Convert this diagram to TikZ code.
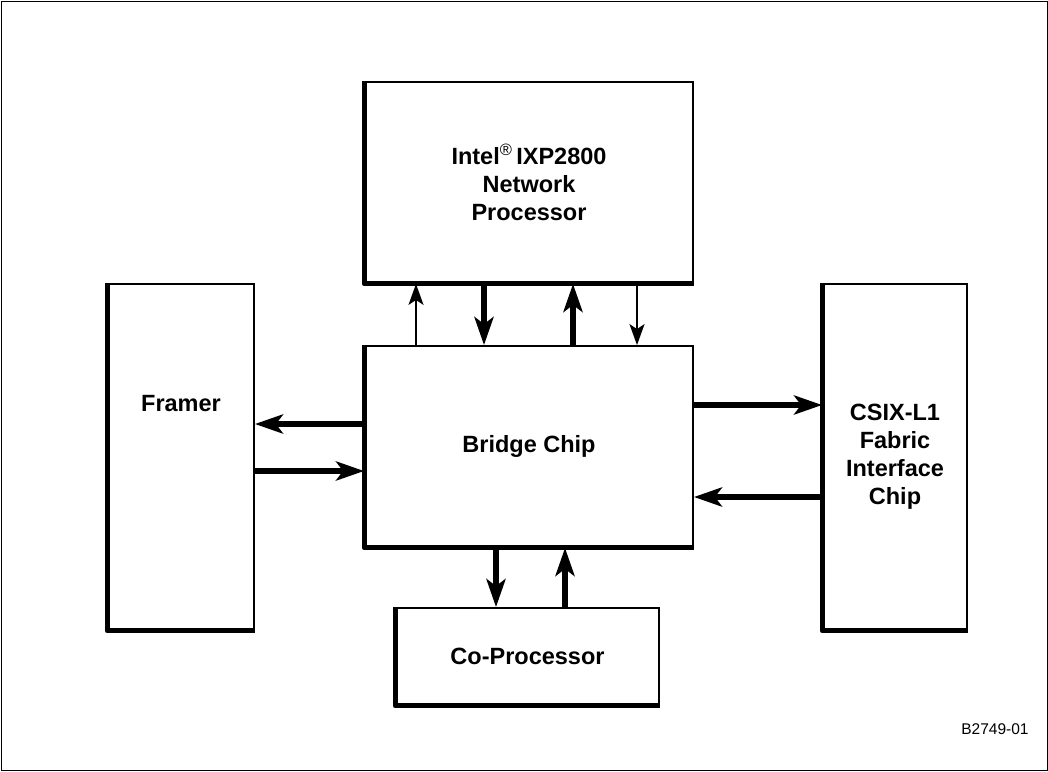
\documentclass[tikz,border=0pt]{standalone}
\usepackage{fontspec}
\setmainfont{Liberation Sans}
\usetikzlibrary{arrows.meta}

\begin{document}
\begin{tikzpicture}[
      x=1pt, y=-1pt,
      font=\bfseries\fontsize{23.5}{28}\selectfont,
      chip/.style={draw, line width=1.8pt, align=center, inner sep=0pt},
      bus/.style={line width=6pt, -{Stealth[length=28pt, width=19pt, inset=7pt]}},
      wire/.style={line width=1.8pt, -{Stealth[length=21pt, width=15pt, inset=5pt]}},
      edge/.style={line width=5pt, line cap=butt, line join=round},
    ]

      \useasboundingbox (0,0) rectangle (1048,771);
      \draw[line width=1pt] (1,1) rectangle (1047,770);

      % chips
      \node[chip, minimum width=328, minimum height=201] (np) at (529,182.5)
        {Intel\textsuperscript{\normalfont ®}\,IXP2800\\Network\\Processor};
      \node[chip, minimum width=328, minimum height=201] (bridge) at (529,446.5) {Bridge Chip};
      \node[chip, minimum width=146, minimum height=346,
        label={[yshift=53pt]center:Framer}] (framer) at (181,457) {};
      \node[chip, minimum width=144, minimum height=346] (csix) at (895,457)
        {CSIX-L1\\Fabric\\Interface\\Chip};
      \node[chip, minimum width=263, minimum height=97] (cop) at (527.5,656.5) {Co-Processor};

      % heavy left and bottom edges
      \foreach \b in {np,bridge,framer,csix,cop}
        \draw[edge] (\b.north west) -- (\b.south west) -- (\b.south east);

      % processor <-> bridge
      \draw[wire] ([xshift=-113pt]bridge.north) -- ([xshift=-113pt]np.south);
      \draw[bus] ([xshift=-45pt]np.south) -- ([xshift=-45pt]bridge.north);
      \draw[bus] ([xshift=44pt]bridge.north) -- ([xshift=44pt]np.south);
      \draw[wire] ([xshift=108pt]np.south) -- ([xshift=108pt]bridge.north);

      % framer <-> bridge
      \draw[bus] ([yshift=22.5pt]bridge.west) -- ([yshift=22.5pt]bridge.west -| framer.east);
      \draw[bus] ([yshift=-24.5pt]framer.east |- bridge.west) -- ([yshift=-24.5pt]bridge.west);

      % bridge <-> fabric
      \draw[bus] ([yshift=41.5pt]bridge.east) -- ([yshift=41.5pt]bridge.east -| csix.west);
      \draw[bus] ([yshift=-50.5pt]csix.west |- bridge.east) -- ([yshift=-50.5pt]bridge.east);

      % bridge <-> co-processor
      \draw[bus] ([xshift=-33pt]bridge.south) -- ([xshift=-33pt]bridge.south |- cop.north);
      \draw[bus] ([xshift=36pt]bridge.south |- cop.north) -- ([xshift=36pt]bridge.south);

      \node[font=\normalfont\fontsize{15.5}{18}\selectfont] (fig) at (995,729) {B2749-01};

    \end{tikzpicture}
\end{document}
